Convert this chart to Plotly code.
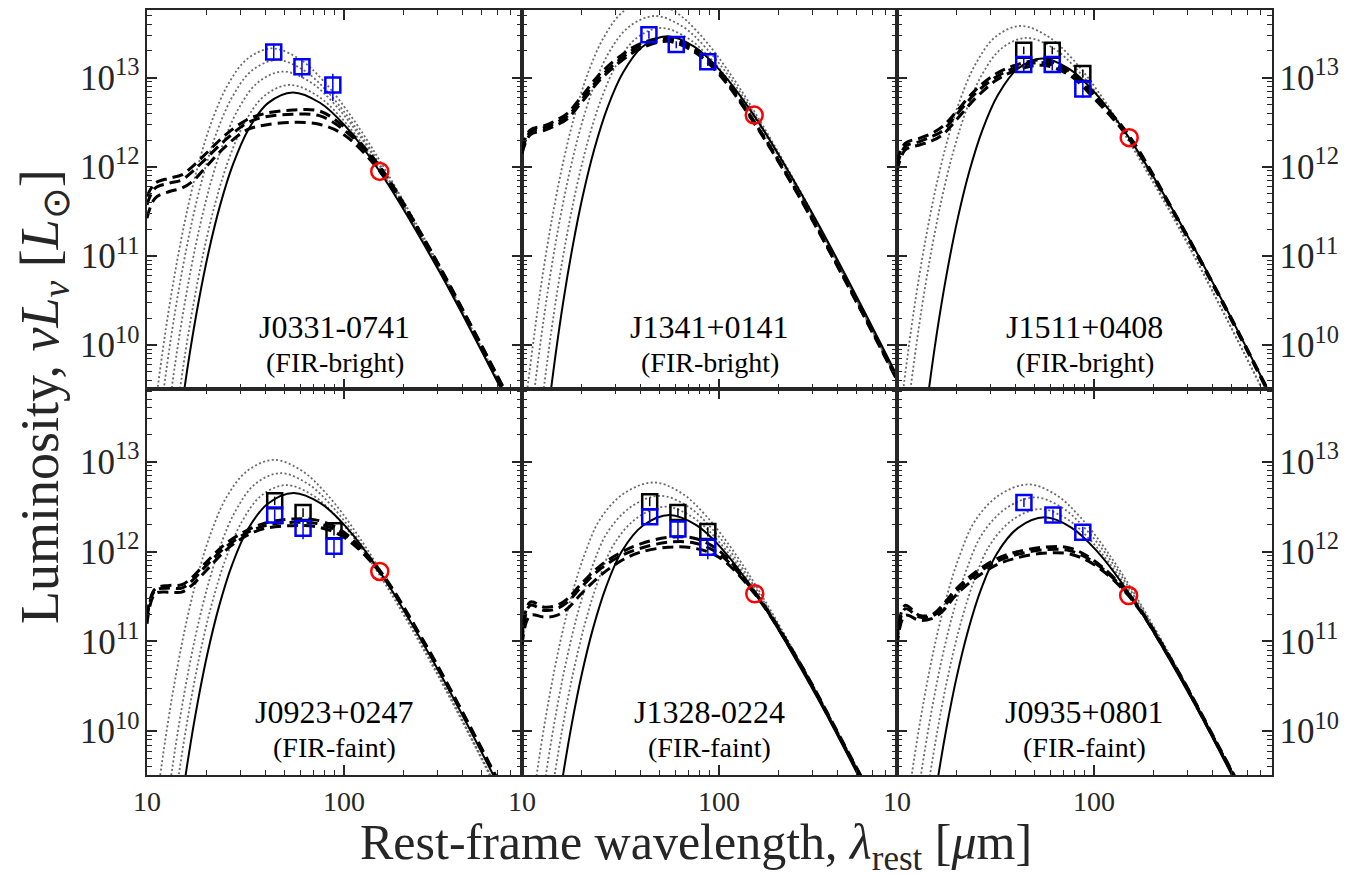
import numpy as np
import plotly.graph_objects as go

# ---------------------------------------------------------------- text
SOURCES = ["J0331-0741", "J1341+0141", "J1511+0408",
           "J0923+0247", "J1328-0224", "J0935+0801"]
CLASSES = ["(FIR-bright)", "(FIR-bright)", "(FIR-bright)",
           "(FIR-faint)", "(FIR-faint)", "(FIR-faint)"]
X_TITLE = "Rest-frame wavelength, <i>λ</i><sub>rest</sub> [<i>μ</i>m]"
Y_TITLE = "Luminosity, <i>νL</i><sub><i>ν</i></sub> [<i>L</i><sub>⊙</sub>]"

# wavelength grid (µm) of the dashed template curves
TPL_LAM = [10, 11, 13, 15, 17, 20, 25, 32, 40, 55, 75, 100, 150, 250, 450, 800]

# ================================================================ panel 1
P1_SOLID_LOGLAM = [1.119, 1.175, 1.216, 1.262, 1.313, 1.371, 1.438, 1.517, 1.614, 1.740, 1.878, 2.003, 2.179, 2.480, 2.781, 3.082]
P1_SOLID_LOGL = [8.302, 9.272, 9.892, 10.487, 11.048, 11.568, 12.036, 12.429, 12.716, 12.836, 12.720, 12.468, 11.957, 10.842, 9.579, 8.252]
P1_DOT_LOGLAM = [
    [1.013, 1.069, 1.110, 1.156, 1.207, 1.265, 1.332, 1.411, 1.508, 1.634, 1.772, 1.897, 2.073, 2.374, 2.675, 2.976],
    [1.037, 1.093, 1.134, 1.180, 1.231, 1.289, 1.356, 1.435, 1.532, 1.658, 1.796, 1.921, 2.097, 2.398, 2.699, 3.000],
    [1.069, 1.125, 1.166, 1.212, 1.263, 1.321, 1.388, 1.467, 1.564, 1.690, 1.828, 1.953, 2.129, 2.430, 2.731, 3.032],
    [1.102, 1.158, 1.199, 1.245, 1.296, 1.354, 1.421, 1.500, 1.597, 1.723, 1.861, 1.986, 2.162, 2.463, 2.764, 3.065],
]
P1_DOT_LOGL = [
    [8.796, 9.766, 10.386, 10.981, 11.542, 12.062, 12.530, 12.923, 13.210, 13.330, 13.214, 12.962, 12.451, 11.336, 10.073, 8.746],
    [8.666, 9.636, 10.256, 10.851, 11.412, 11.932, 12.400, 12.793, 13.080, 13.200, 13.084, 12.832, 12.321, 11.206, 9.943, 8.616],
    [8.536, 9.506, 10.126, 10.721, 11.282, 11.802, 12.270, 12.663, 12.950, 13.070, 12.954, 12.702, 12.191, 11.076, 9.813, 8.486],
    [8.386, 9.356, 9.976, 10.571, 11.132, 11.652, 12.120, 12.513, 12.800, 12.920, 12.804, 12.552, 12.041, 10.926, 9.663, 8.336],
]
P1_DASH_LOGL = [
    [11.668, 11.817, 11.873, 11.910, 12.004, 12.153, 12.358, 12.526, 12.601, 12.638, 12.627, 12.450, 12.022, 11.230, 10.190, 9.120],
    [11.575, 11.761, 11.817, 11.854, 11.948, 12.097, 12.302, 12.489, 12.563, 12.590, 12.575, 12.414, 12.004, 11.220, 10.180, 9.110],
    [11.425, 11.649, 11.724, 11.761, 11.836, 12.004, 12.228, 12.414, 12.470, 12.500, 12.478, 12.360, 11.966, 11.210, 10.170, 9.100],
]
P1_BLACK_LAM, P1_BLACK_L, P1_BLACK_ERR = [], [], []
P1_BLUE_LAM = [44.0, 61.2, 87.8]
P1_BLUE_L = [1.95e13, 1.33e13, 8.3e12]
P1_BLUE_ERR = [4.0e12, 3.3e12, 2.8e12]
P1_RED_LAM, P1_RED_L = [152], [8.9e11]

# ================================================================ panel 2
P2_SOLID_LOGLAM = [1.115, 1.171, 1.212, 1.258, 1.309, 1.367, 1.434, 1.513, 1.610, 1.736, 1.874, 1.999, 2.175, 2.476, 2.777, 3.078]
P2_SOLID_LOGL = [8.932, 9.902, 10.522, 11.117, 11.678, 12.198, 12.666, 13.059, 13.346, 13.466, 13.350, 13.098, 12.587, 11.472, 10.209, 8.882]
P2_DOT_LOGLAM = [
    [1.017, 1.073, 1.114, 1.160, 1.211, 1.269, 1.336, 1.415, 1.512, 1.638, 1.776, 1.901, 2.077, 2.378, 2.679, 2.980],
    [1.044, 1.100, 1.141, 1.187, 1.238, 1.296, 1.363, 1.442, 1.544, 1.675, 1.813, 1.938, 2.114, 2.415, 2.716, 3.017],
    [1.083, 1.139, 1.180, 1.226, 1.277, 1.335, 1.402, 1.481, 1.578, 1.704, 1.842, 1.967, 2.143, 2.444, 2.745, 3.046],
]
P2_DOT_LOGL = [
    [9.326, 10.296, 10.916, 11.511, 12.072, 12.592, 13.060, 13.453, 13.740, 13.860, 13.744, 13.492, 12.981, 11.866, 10.603, 9.276],
    [9.160, 10.130, 10.750, 11.345, 11.906, 12.426, 12.894, 13.287, 13.574, 13.694, 13.578, 13.326, 12.815, 11.700, 10.437, 9.110],
    [9.026, 9.996, 10.616, 11.211, 11.772, 12.292, 12.760, 13.153, 13.440, 13.560, 13.444, 13.192, 12.681, 11.566, 10.303, 8.976],
]
P2_DASH_LOGL = [
    [12.209, 12.414, 12.463, 12.526, 12.601, 12.787, 13.049, 13.254, 13.384, 13.448, 13.330, 13.080, 12.520, 11.720, 10.690, 9.630],
    [12.180, 12.390, 12.440, 12.500, 12.570, 12.750, 13.010, 13.220, 13.360, 13.430, 13.310, 13.060, 12.510, 11.710, 10.680, 9.620],
    [12.150, 12.360, 12.410, 12.470, 12.540, 12.720, 12.980, 13.190, 13.330, 13.410, 13.290, 13.040, 12.500, 11.700, 10.670, 9.610],
]
P2_BLACK_LAM, P2_BLACK_L, P2_BLACK_ERR = [], [], []
P2_BLUE_LAM = [44.1, 60.7, 87.8]
P2_BLUE_L = [3.05e13, 2.36e13, 1.51e13]
P2_BLUE_ERR = [3.0e12, 2.2e12, 1.5e12]
P2_RED_LAM, P2_RED_L = [151], [3.82e12]

# ================================================================ panel 3
P3_SOLID_LOGLAM = [1.115, 1.171, 1.212, 1.258, 1.309, 1.367, 1.434, 1.513, 1.610, 1.736, 1.874, 1.999, 2.175, 2.476, 2.777, 3.078]
P3_SOLID_LOGL = [8.682, 9.652, 10.272, 10.867, 11.428, 11.948, 12.416, 12.809, 13.096, 13.216, 13.100, 12.848, 12.337, 11.222, 9.959, 8.632]
P3_DOT_LOGLAM = [
    [1.006, 1.062, 1.103, 1.149, 1.200, 1.258, 1.325, 1.404, 1.501, 1.627, 1.765, 1.890, 2.066, 2.367, 2.668, 2.969],
    [1.035, 1.091, 1.132, 1.178, 1.229, 1.287, 1.354, 1.433, 1.530, 1.656, 1.794, 1.919, 2.095, 2.396, 2.697, 2.998],
]
P3_DOT_LOGL = [
    [9.048, 10.018, 10.638, 11.233, 11.794, 12.314, 12.782, 13.175, 13.462, 13.582, 13.466, 13.214, 12.703, 11.588, 10.325, 8.998],
    [8.914, 9.884, 10.504, 11.099, 11.660, 12.180, 12.648, 13.041, 13.328, 13.448, 13.332, 13.080, 12.569, 11.454, 10.191, 8.864],
]
P3_DASH_LOGL = [
    [12.060, 12.265, 12.321, 12.377, 12.451, 12.619, 12.862, 13.049, 13.142, 13.200, 13.080, 12.810, 12.358, 11.530, 10.490, 9.410],
    [12.004, 12.228, 12.284, 12.340, 12.403, 12.582, 12.825, 13.011, 13.112, 13.170, 13.060, 12.790, 12.340, 11.520, 10.480, 9.400],
    [11.948, 12.190, 12.246, 12.291, 12.358, 12.526, 12.769, 12.974, 13.082, 13.140, 13.030, 12.770, 12.321, 11.510, 10.470, 9.390],
]
P3_BLACK_LAM = [44.0, 61.4, 87.8]
P3_BLACK_L = [2.04e13, 2.04e13, 1.12e13]
P3_BLACK_ERR = [2.0e12, 2.0e12, 1.2e12]
P3_BLUE_LAM = [44.0, 61.4, 87.8]
P3_BLUE_L = [1.41e13, 1.41e13, 7.47e12]
P3_BLUE_ERR = [2.5e12, 2.0e12, 1.5e12]
P3_RED_LAM, P3_RED_L = [151], [2.13e12]

# ================================================================ panel 4
P4_SOLID_LOGLAM = [1.113, 1.169, 1.210, 1.256, 1.307, 1.365, 1.432, 1.511, 1.613, 1.744, 1.882, 2.007, 2.183, 2.484, 2.785, 3.086]
P4_SOLID_LOGL = [8.118, 9.088, 9.708, 10.303, 10.864, 11.384, 11.852, 12.245, 12.532, 12.652, 12.536, 12.284, 11.773, 10.658, 9.395, 8.068]
P4_DOT_LOGLAM = [
    [1.008, 1.064, 1.105, 1.151, 1.202, 1.260, 1.327, 1.406, 1.511, 1.644, 1.782, 1.907, 2.083, 2.384, 2.685, 2.986],
    [1.055, 1.111, 1.152, 1.198, 1.249, 1.307, 1.374, 1.453, 1.550, 1.676, 1.814, 1.939, 2.115, 2.416, 2.717, 3.018],
    [1.084, 1.140, 1.181, 1.227, 1.278, 1.336, 1.403, 1.482, 1.579, 1.705, 1.843, 1.968, 2.144, 2.445, 2.746, 3.047],
]
P4_DOT_LOGL = [
    [8.488, 9.458, 10.078, 10.673, 11.234, 11.754, 12.222, 12.615, 12.902, 13.022, 12.906, 12.654, 12.143, 11.028, 9.765, 8.438],
    [8.340, 9.310, 9.930, 10.525, 11.086, 11.606, 12.074, 12.467, 12.754, 12.874, 12.758, 12.506, 11.995, 10.880, 9.617, 8.290],
    [8.207, 9.177, 9.797, 10.392, 10.953, 11.473, 11.941, 12.334, 12.621, 12.741, 12.625, 12.373, 11.862, 10.747, 9.484, 8.157],
]
P4_DASH_LOGL = [
    [11.289, 11.585, 11.622, 11.630, 11.715, 11.881, 12.085, 12.233, 12.319, 12.363, 12.344, 12.215, 11.807, 11.030, 10.000, 8.930],
    [11.252, 11.567, 11.593, 11.593, 11.678, 11.844, 12.048, 12.207, 12.289, 12.326, 12.307, 12.189, 11.796, 11.020, 9.990, 8.920],
    [11.196, 11.530, 11.548, 11.548, 11.630, 11.789, 12.011, 12.178, 12.259, 12.289, 12.270, 12.159, 11.785, 11.010, 9.980, 8.910],
]
P4_BLACK_LAM = [44.5, 62.0, 89.0]
P4_BLACK_L = [3.69e12, 2.73e12, 1.71e12]
P4_BLACK_ERR = [4.0e11, 3.0e11, 2.0e11]
P4_BLUE_LAM = [44.5, 62.0, 89.0]
P4_BLUE_L = [2.55e12, 1.82e12, 1.15e12]
P4_BLUE_ERR = [4.0e11, 4.5e11, 3.0e11]
P4_RED_LAM, P4_RED_L = [152], [6.0e11]

# ================================================================ panel 5
P5_SOLID_LOGLAM = [1.108, 1.164, 1.205, 1.251, 1.302, 1.360, 1.427, 1.506, 1.613, 1.749, 1.887, 2.012, 2.188, 2.489, 2.790, 3.091]
P5_SOLID_LOGL = [7.873, 8.843, 9.463, 10.058, 10.619, 11.139, 11.607, 12.000, 12.287, 12.407, 12.291, 12.039, 11.528, 10.413, 9.150, 7.823]
P5_DOT_LOGLAM = [
    [0.999, 1.055, 1.096, 1.142, 1.193, 1.251, 1.318, 1.397, 1.519, 1.670, 1.808, 1.933, 2.109, 2.410, 2.711, 3.012],
    [1.036, 1.092, 1.133, 1.179, 1.230, 1.288, 1.355, 1.434, 1.556, 1.702, 1.840, 1.965, 2.141, 2.442, 2.743, 3.044],
    [1.072, 1.128, 1.169, 1.215, 1.266, 1.324, 1.391, 1.470, 1.587, 1.728, 1.866, 1.991, 2.167, 2.468, 2.769, 3.070],
]
P5_DOT_LOGL = [
    [8.236, 9.206, 9.826, 10.421, 10.982, 11.502, 11.970, 12.363, 12.650, 12.770, 12.654, 12.402, 11.891, 10.776, 9.513, 8.186],
    [8.088, 9.058, 9.678, 10.273, 10.834, 11.354, 11.822, 12.215, 12.502, 12.622, 12.506, 12.254, 11.743, 10.628, 9.365, 8.038],
    [7.966, 8.936, 9.556, 10.151, 10.712, 11.232, 11.700, 12.093, 12.380, 12.500, 12.384, 12.132, 11.621, 10.506, 9.243, 7.916],
]
P5_DASH_LOGL = [
    [11.030, 11.437, 11.381, 11.400, 11.474, 11.641, 11.844, 11.993, 12.085, 12.159, 12.148, 12.011, 11.567, 10.810, 9.780, 8.750],
    [10.993, 11.400, 11.344, 11.363, 11.437, 11.604, 11.807, 11.956, 12.037, 12.104, 12.096, 11.974, 11.556, 10.800, 9.770, 8.740],
    [10.956, 11.289, 11.270, 11.289, 11.363, 11.530, 11.733, 11.900, 11.993, 12.048, 12.037, 11.937, 11.544, 10.790, 9.760, 8.730],
]
P5_BLACK_LAM = [44.5, 61.9, 87.8]
P5_BLACK_L = [3.60e12, 2.73e12, 1.67e12]
P5_BLACK_ERR = [4.0e11, 3.0e11, 2.0e11]
P5_BLUE_LAM = [44.5, 61.9, 87.8]
P5_BLUE_L = [2.45e12, 1.79e12, 1.12e12]
P5_BLUE_ERR = [4.0e11, 4.5e11, 3.0e11]
P5_RED_LAM, P5_RED_L = [152], [3.39e11]

# ================================================================ panel 6
P6_SOLID_LOGLAM = [1.108, 1.164, 1.205, 1.251, 1.302, 1.360, 1.427, 1.506, 1.613, 1.749, 1.887, 2.012, 2.188, 2.489, 2.790, 3.091]
P6_SOLID_LOGL = [7.847, 8.817, 9.437, 10.032, 10.593, 11.113, 11.581, 11.974, 12.261, 12.381, 12.265, 12.013, 11.502, 10.387, 9.124, 7.797]
P6_DOT_LOGLAM = [
    [0.998, 1.054, 1.095, 1.141, 1.192, 1.250, 1.317, 1.396, 1.518, 1.669, 1.807, 1.932, 2.108, 2.409, 2.710, 3.011],
    [1.035, 1.091, 1.132, 1.178, 1.229, 1.287, 1.354, 1.433, 1.555, 1.701, 1.839, 1.964, 2.140, 2.441, 2.742, 3.043],
    [1.072, 1.128, 1.169, 1.215, 1.266, 1.324, 1.391, 1.470, 1.587, 1.728, 1.866, 1.991, 2.167, 2.468, 2.769, 3.070],
]
P6_DOT_LOGL = [
    [8.214, 9.184, 9.804, 10.399, 10.960, 11.480, 11.948, 12.341, 12.628, 12.748, 12.632, 12.380, 11.869, 10.754, 9.491, 8.164],
    [8.070, 9.040, 9.660, 10.255, 10.816, 11.336, 11.804, 12.197, 12.484, 12.604, 12.488, 12.236, 11.725, 10.610, 9.347, 8.020],
    [7.940, 8.910, 9.530, 10.125, 10.686, 11.206, 11.674, 12.067, 12.354, 12.474, 12.358, 12.106, 11.595, 10.480, 9.217, 7.890],
]
P6_DASH_LOGL = [
    [11.011, 11.400, 11.289, 11.296, 11.400, 11.585, 11.770, 11.919, 11.993, 12.048, 12.041, 11.900, 11.530, 10.780, 9.750, 8.720],
    [10.974, 11.363, 11.270, 11.278, 11.370, 11.556, 11.741, 11.889, 11.963, 12.019, 12.011, 11.881, 11.519, 10.770, 9.740, 8.710],
    [10.937, 11.289, 11.233, 11.252, 11.333, 11.519, 11.704, 11.852, 11.926, 11.981, 11.974, 11.856, 11.507, 10.760, 9.730, 8.700],
]
P6_BLACK_LAM, P6_BLACK_L, P6_BLACK_ERR = [], [], []
P6_BLUE_LAM = [44.1, 61.9, 87.8]
P6_BLUE_L = [3.53e12, 2.55e12, 1.64e12]
P6_BLUE_ERR = [4.0e11, 4.0e11, 2.5e11]
P6_RED_LAM, P6_RED_L = [150], [3.24e11]

PANELS = [
    dict(solid=(P1_SOLID_LOGLAM, P1_SOLID_LOGL), dots=(P1_DOT_LOGLAM, P1_DOT_LOGL), dash=P1_DASH_LOGL,
         black=(P1_BLACK_LAM, P1_BLACK_L, P1_BLACK_ERR), blue=(P1_BLUE_LAM, P1_BLUE_L, P1_BLUE_ERR), red=(P1_RED_LAM, P1_RED_L)),
    dict(solid=(P2_SOLID_LOGLAM, P2_SOLID_LOGL), dots=(P2_DOT_LOGLAM, P2_DOT_LOGL), dash=P2_DASH_LOGL,
         black=(P2_BLACK_LAM, P2_BLACK_L, P2_BLACK_ERR), blue=(P2_BLUE_LAM, P2_BLUE_L, P2_BLUE_ERR), red=(P2_RED_LAM, P2_RED_L)),
    dict(solid=(P3_SOLID_LOGLAM, P3_SOLID_LOGL), dots=(P3_DOT_LOGLAM, P3_DOT_LOGL), dash=P3_DASH_LOGL,
         black=(P3_BLACK_LAM, P3_BLACK_L, P3_BLACK_ERR), blue=(P3_BLUE_LAM, P3_BLUE_L, P3_BLUE_ERR), red=(P3_RED_LAM, P3_RED_L)),
    dict(solid=(P4_SOLID_LOGLAM, P4_SOLID_LOGL), dots=(P4_DOT_LOGLAM, P4_DOT_LOGL), dash=P4_DASH_LOGL,
         black=(P4_BLACK_LAM, P4_BLACK_L, P4_BLACK_ERR), blue=(P4_BLUE_LAM, P4_BLUE_L, P4_BLUE_ERR), red=(P4_RED_LAM, P4_RED_L)),
    dict(solid=(P5_SOLID_LOGLAM, P5_SOLID_LOGL), dots=(P5_DOT_LOGLAM, P5_DOT_LOGL), dash=P5_DASH_LOGL,
         black=(P5_BLACK_LAM, P5_BLACK_L, P5_BLACK_ERR), blue=(P5_BLUE_LAM, P5_BLUE_L, P5_BLUE_ERR), red=(P5_RED_LAM, P5_RED_L)),
    dict(solid=(P6_SOLID_LOGLAM, P6_SOLID_LOGL), dots=(P6_DOT_LOGLAM, P6_DOT_LOGL), dash=P6_DASH_LOGL,
         black=(P6_BLACK_LAM, P6_BLACK_L, P6_BLACK_ERR), blue=(P6_BLUE_LAM, P6_BLUE_L, P6_BLUE_ERR), red=(P6_RED_LAM, P6_RED_L)),
]

# ---------------------------------------------------------------- style / geometry
AX = "#262626"
FONT = "Liberation Serif"
X_RANGE = [1.0, 2.904]
Y_RANGE_TOP = [9.507, 13.761]
Y_RANGE_BOT = [9.511, 13.811]
FIG_W, FIG_H = 1360, 869            # page adds an 8 px body margin
M_L, M_R, M_T, M_B = 139, 96, 0, 102
ROW_SPLIT = 387 / 767               # paper y of the boundary between the two rows
PAGE_OFF = 8


def px_x(px):   # page pixel -> paper x
    return (px - PAGE_OFF - M_L) / (FIG_W - M_L - M_R)


def px_y(py):   # page pixel -> paper y
    top = PAGE_OFF + M_T
    bottom = PAGE_OFF + FIG_H - M_B
    return (bottom - py) / (bottom - top)


fig = go.Figure()
layout = dict(width=FIG_W, height=FIG_H, margin=dict(l=M_L, r=M_R, t=M_T, b=M_B, pad=0),
              paper_bgcolor="white", plot_bgcolor="white", showlegend=False,
              font=dict(family=FONT, color=AX))
annotations = []

for i, p in enumerate(PANELS):
    k = i + 1
    row, col = divmod(i, 3)
    xa = "x" if k == 1 else f"x{k}"
    ya = "y" if k == 1 else f"y{k}"
    common = dict(xaxis=xa, yaxis=ya, showlegend=False, hoverinfo="skip")

    for ll, lL in zip(*p["dots"]):
        fig.add_trace(go.Scatter(x=10 ** np.array(ll), y=10 ** np.array(lL), mode="lines",
                                 line=dict(color="#6a6a6a", width=1.8, dash="2px,2.4px",
                                           shape="spline", smoothing=1.0), **common))
    ll, lL = p["solid"]
    fig.add_trace(go.Scatter(x=10 ** np.array(ll), y=10 ** np.array(lL), mode="lines",
                             line=dict(color="black", width=2, shape="spline", smoothing=1.0), **common))
    for lL in p["dash"]:
        fig.add_trace(go.Scatter(x=TPL_LAM, y=10 ** np.array(lL), mode="lines",
                                 line=dict(color="black", width=3, dash="11px,6px",
                                           shape="spline", smoothing=1.0), **common))
    bl, bL, bE = p["black"]
    if bl:
        fig.add_trace(go.Scatter(x=bl, y=bL, mode="markers",
                                 error_y=dict(type="data", array=bE, color="black", thickness=1.5, width=0),
                                 marker=dict(symbol="square-open", size=15, color="black",
                                             line=dict(color="black", width=2.5)), **common))
    ul, uL, uE = p["blue"]
    fig.add_trace(go.Scatter(x=ul, y=uL, mode="markers",
                             error_y=dict(type="data", array=uE, color="#0000ff", thickness=1.5, width=0),
                             marker=dict(symbol="square-open", size=15, color="#0000ff",
                                         line=dict(color="#0000ff", width=2.5)), **common))
    rl, rL = p["red"]
    fig.add_trace(go.Scatter(x=rl, y=rL, mode="markers",
                             marker=dict(symbol="circle-open", size=17, color="#ff0000",
                                         line=dict(color="#ff0000", width=2.5)), **common))

    tick_common = dict(type="log", showline=True, linewidth=2, linecolor=AX, mirror="allticks",
                       ticks="inside", ticklen=10, tickwidth=1.5, tickcolor=AX,
                       showgrid=False, zeroline=False, dtick=1,
                       tickfont=dict(family=FONT, size=28, color=AX),
                       minor=dict(ticks="inside", ticklen=5, tickwidth=1.3, tickcolor=AX,
                                  dtick="D1", showgrid=False))
    layout[f"xaxis{'' if k == 1 else k}"] = dict(
        tick_common, domain=[col / 3, (col + 1) / 3], range=X_RANGE, anchor=ya,
        exponentformat="none", showticklabels=(row == 1))
    layout[f"yaxis{'' if k == 1 else k}"] = dict(
        tick_common, domain=[ROW_SPLIT, 1.0] if row == 0 else [0.0, ROW_SPLIT],
        range=Y_RANGE_TOP if row == 0 else Y_RANGE_BOT, anchor=xa,
        exponentformat="power", showticklabels=(col != 1), side="right" if col == 2 else "left")

    cx = (col + 0.5) / 3
    y1, y2 = (px_y(326), px_y(361)) if row == 0 else (px_y(712), px_y(747))
    annotations.append(dict(x=cx, y=y1, xref="paper", yref="paper", text=SOURCES[i], showarrow=False,
                            xanchor="center", yanchor="middle", font=dict(family=FONT, size=32, color="black")))
    annotations.append(dict(x=cx, y=y2, xref="paper", yref="paper", text=CLASSES[i], showarrow=False,
                            xanchor="center", yanchor="middle", font=dict(family=FONT, size=28, color="black")))

annotations.append(dict(x=px_x(696), y=px_y(846), xref="paper", yref="paper", text=X_TITLE, showarrow=False,
                        xanchor="center", yanchor="middle", font=dict(family=FONT, size=50, color=AX)))
annotations.append(dict(x=px_x(44), y=px_y(396), xref="paper", yref="paper", text=Y_TITLE, showarrow=False,
                        textangle=-90, xanchor="center", yanchor="middle",
                        font=dict(family=FONT, size=54, color=AX)))
layout["annotations"] = annotations
fig.update_layout(**layout)
fig.write_html("out.html")
